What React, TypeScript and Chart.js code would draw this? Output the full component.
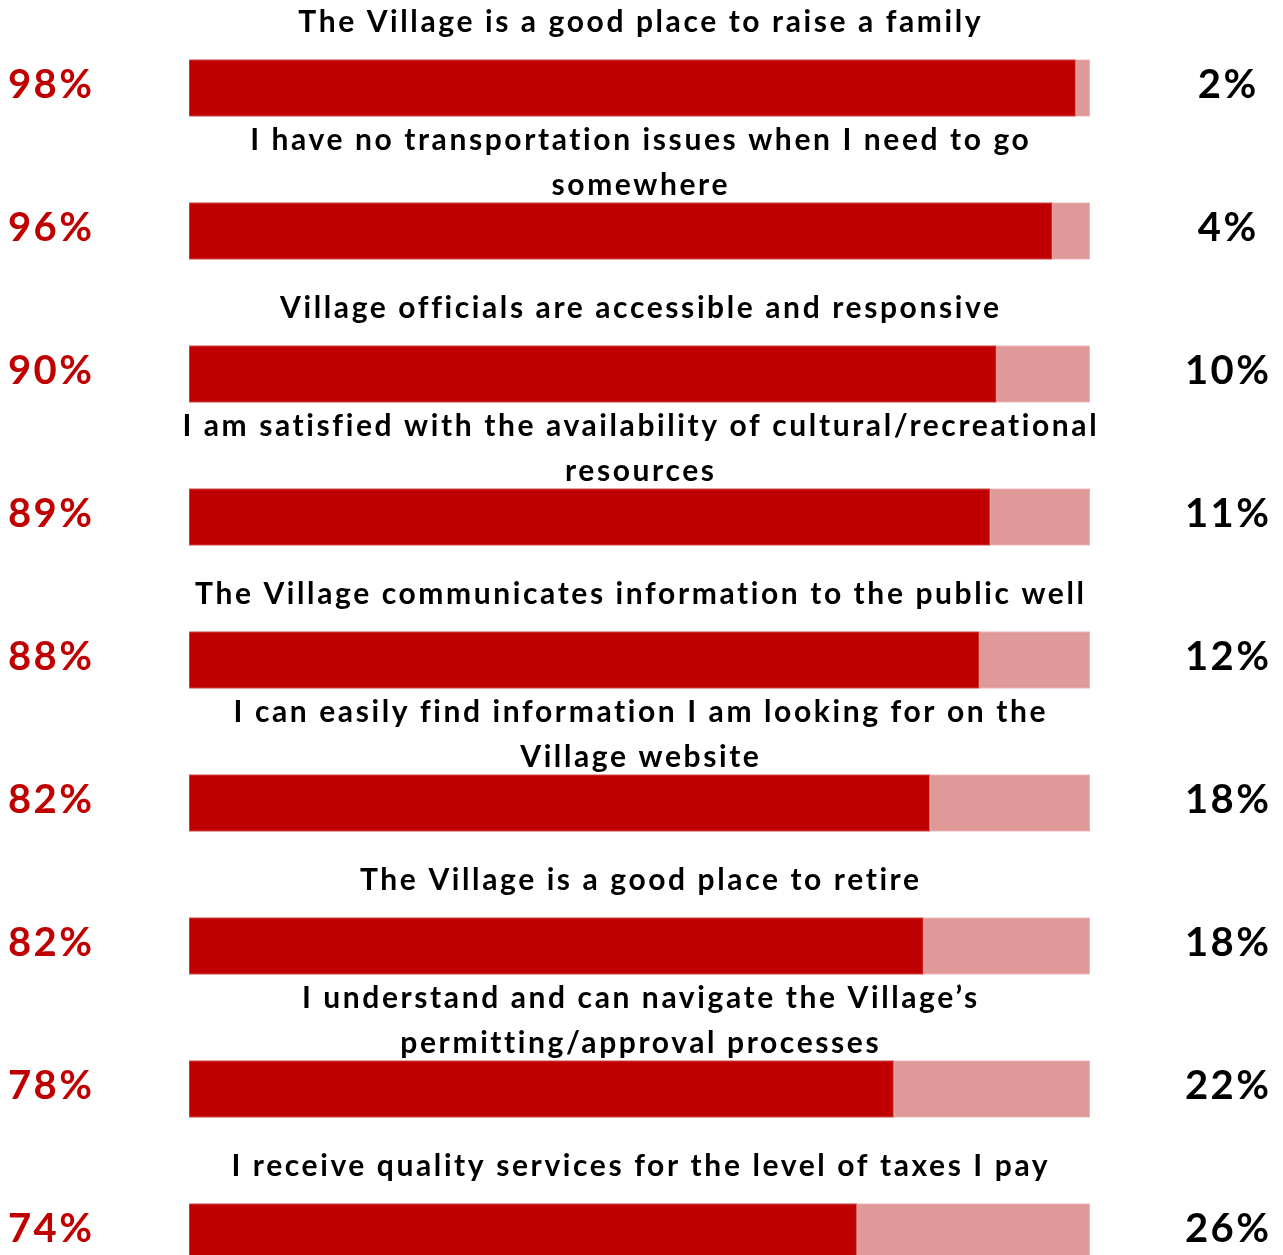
import React, { useEffect, useRef } from "react";
import { Chart, registerables } from "chart.js";

Chart.register(...registerables);

const categories: string[][] = [
  ["The Village is a good place to raise a family"],
  ["I have no transportation issues when I need to go", "somewhere"],
  ["Village officials are accessible and responsive"],
  ["I am satisfied with the availability of cultural/recreational", "resources"],
  ["The Village communicates information to the public well"],
  ["I can easily find information I am looking for on the", "Village website"],
  ["The Village is a good place to retire"],
  ["I understand and can navigate the Village\u2019s", "permitting/approval processes"],
  ["I receive quality services for the level of taxes I pay"],
];

const agreeValues = [98.4, 95.8, 89.6, 88.9, 87.7, 82.2, 81.5, 78.2, 74.1];
const disagreeValues = [1.6, 4.2, 10.4, 11.1, 12.3, 17.8, 18.5, 21.8, 25.9];
const agreeLabels = ["98%", "96%", "90%", "89%", "88%", "82%", "82%", "78%", "74%"];
const disagreeLabels = ["2%", "4%", "10%", "11%", "12%", "18%", "18%", "22%", "26%"];

const RED = "#C00000";
const PINK = "#DF9999";
const FONT = "Lato, 'DejaVu Sans', sans-serif";

const labelPlugin = {
  id: "rowLabels",
  afterDatasetsDraw(chart: any) {
    const ctx = chart.ctx;
    const meta = chart.getDatasetMeta(0);
    const area = chart.chartArea;
    const cx = (area.left + area.right) / 2;
    ctx.save();
    meta.data.forEach((bar: any, i: number) => {
      const top = bar.y - bar.height / 2;
      ctx.fillStyle = "#000";
      ctx.font = `bold 30px ${FONT}`;
      (ctx as any).letterSpacing = "2.6px";
      ctx.textAlign = "center";
      ctx.textBaseline = "middle";
      const lines = categories[i];
      if (lines.length === 1) {
        ctx.fillText(lines[0], cx + 1.3, top - 37);
      } else {
        ctx.fillText(lines[0], cx + 1.3, top - 62);
        ctx.fillText(lines[1], cx + 1.3, top - 17);
      }
      ctx.font = `bold 40px ${FONT}`;
      (ctx as any).letterSpacing = "2.5px";
      ctx.fillStyle = RED;
      ctx.fillText(agreeLabels[i], 51.25, bar.y - 3);
      ctx.fillStyle = "#000";
      ctx.fillText(disagreeLabels[i], 1228.25, bar.y - 3);
    });
    ctx.restore();
  },
};

export default function App() {
  const ref = useRef<HTMLCanvasElement>(null);
  useEffect(() => {
    if (!ref.current) return;
    const chart = new Chart(ref.current, {
      type: "bar",
      data: {
        labels: categories.map((c) => c.join(" ")),
        datasets: [
          {
            label: "Agree",
            data: agreeValues,
            backgroundColor: RED,
            borderColor: "#D35A5A",
            borderWidth: 1,
            borderSkipped: false,
            barThickness: 57,
          },
          {
            label: "Disagree",
            data: disagreeValues,
            backgroundColor: PINK,
            borderColor: "#EDC0C0",
            borderWidth: 1,
            borderSkipped: false,
            barThickness: 57,
          },
        ],
      },
      options: {
        indexAxis: "y",
        animation: false,
        responsive: false,
        maintainAspectRatio: false,
        layout: { padding: { left: 189, right: 193, top: 16.5, bottom: 16.5 } },
        plugins: { legend: { display: false }, tooltip: { enabled: false } },
        scales: {
          x: { stacked: true, min: 0, max: 100, display: false },
          y: { stacked: true, display: false },
        },
      },
      plugins: [labelPlugin],
    });
    return () => chart.destroy();
  }, []);
  return (
    <div style={{ position: "absolute", left: 0, top: 0, width: 1283, height: 1255, overflow: "hidden", background: "#fff" }}>
      <canvas ref={ref} width={1283} height={1320} style={{ width: 1283, height: 1320, display: "block" }} />
    </div>
  );
}
